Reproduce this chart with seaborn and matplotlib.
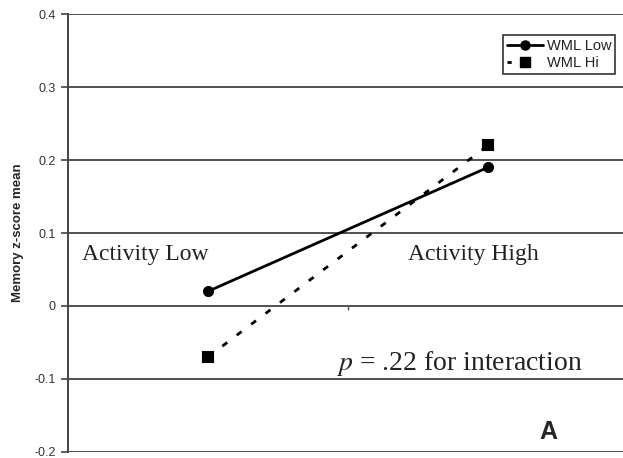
import seaborn as sns
import matplotlib.pyplot as plt
import pandas as pd

activity = ['Activity Low', 'Activity High']
wml_low = [0.02, 0.19]
wml_hi = [-0.07, 0.22]
yticks = [-0.2, -0.1, 0, 0.1, 0.2, 0.3, 0.4]
ytick_labels = ['-0.2', '-0.1', '0', '0.1', '0.2', '0.3', '0.4']

df = pd.DataFrame({
    'activity': activity * 2,
    'score': wml_low + wml_hi,
    'group': ['WML Low'] * 2 + ['WML Hi'] * 2,
})

sns.set_theme(style="white")
plt.rcParams['font.family'] = ['Liberation Sans', 'DejaVu Sans']
plt.rcParams['mathtext.fontset'] = 'stix'

dash = (0, (2.2, 4.3))

fig = plt.figure(figsize=(6.23, 4.58), dpi=100)
ax = fig.add_axes([0.109, 0.0135, 0.899, 0.9555])

for y in yticks:
    ax.axhline(y, color='#505050', lw=1.4, zorder=0)

sns.pointplot(data=df, x='activity', y='score', hue='group', ax=ax,
              palette=['black', 'black'], markers=['o', 's'],
              linestyles=['-', dash], errorbar=None,
              markersize=6.5, linewidth=2.0, legend=False)

# boxed legend like the original
h_low, = ax.plot([], [], color='black', lw=2.0, marker='o', ms=6.5, ls='-')
h_hi, = ax.plot([], [], color='black', lw=2.0, marker='s', ms=6.5, ls=(0, (1.5, 30)))
leg = ax.legend([h_low, h_hi], ['WML Low', 'WML Hi'], loc='upper right',
                bbox_to_anchor=(0.977, 0.952), fontsize=10.5, frameon=True,
                fancybox=False, edgecolor='black', handlelength=2.5,
                borderpad=0.25, labelspacing=0.25, handletextpad=0.25,
                borderaxespad=0)
leg.get_frame().set_linewidth(1.2)
for t in leg.get_texts():
    t.set_color('#222222')

ax.set_xlim(-0.5, 1.5)
ax.set_ylim(-0.2, 0.4)
ax.set_yticks(yticks)
ax.set_yticklabels(ytick_labels, fontsize=9, color='#333333')
ax.set_xticks([0.5])
ax.set_xticklabels([''])
ax.set_xlabel('')
ax.set_ylabel('Memory z-score mean', fontsize=9.5, fontweight='bold', labelpad=7)

for s in ['top', 'right']:
    ax.spines[s].set_visible(False)
ax.spines['left'].set_color('#444444')
ax.spines['left'].set_linewidth(1.4)
ax.spines['bottom'].set_position(('data', 0))
ax.spines['bottom'].set_visible(False)
ax.tick_params(axis='y', left=True, length=5, width=1.2, color='#444444', pad=4)
ax.tick_params(axis='x', bottom=True, length=3, width=1, color='#555555', direction='out')

serif = ['Liberation Serif', 'DejaVu Serif']
ax.text(-0.449, 0.0625, 'Activity Low', family=serif, fontsize=17,
        va='baseline', ha='left', color='#222222')
ax.text(0.714, 0.0625, 'Activity High', family=serif, fontsize=17,
        va='baseline', ha='left', color='#222222')
ax.text(0.457, -0.0885, r'$\mathit{p}$ = .22 for interaction', family=serif,
        fontsize=20, va='baseline', ha='left', color='#222222')
ax.text(1.214, -0.182, 'A', fontsize=18, fontweight='bold', va='baseline', ha='center')

fig.savefig('out.png', dpi=100)
